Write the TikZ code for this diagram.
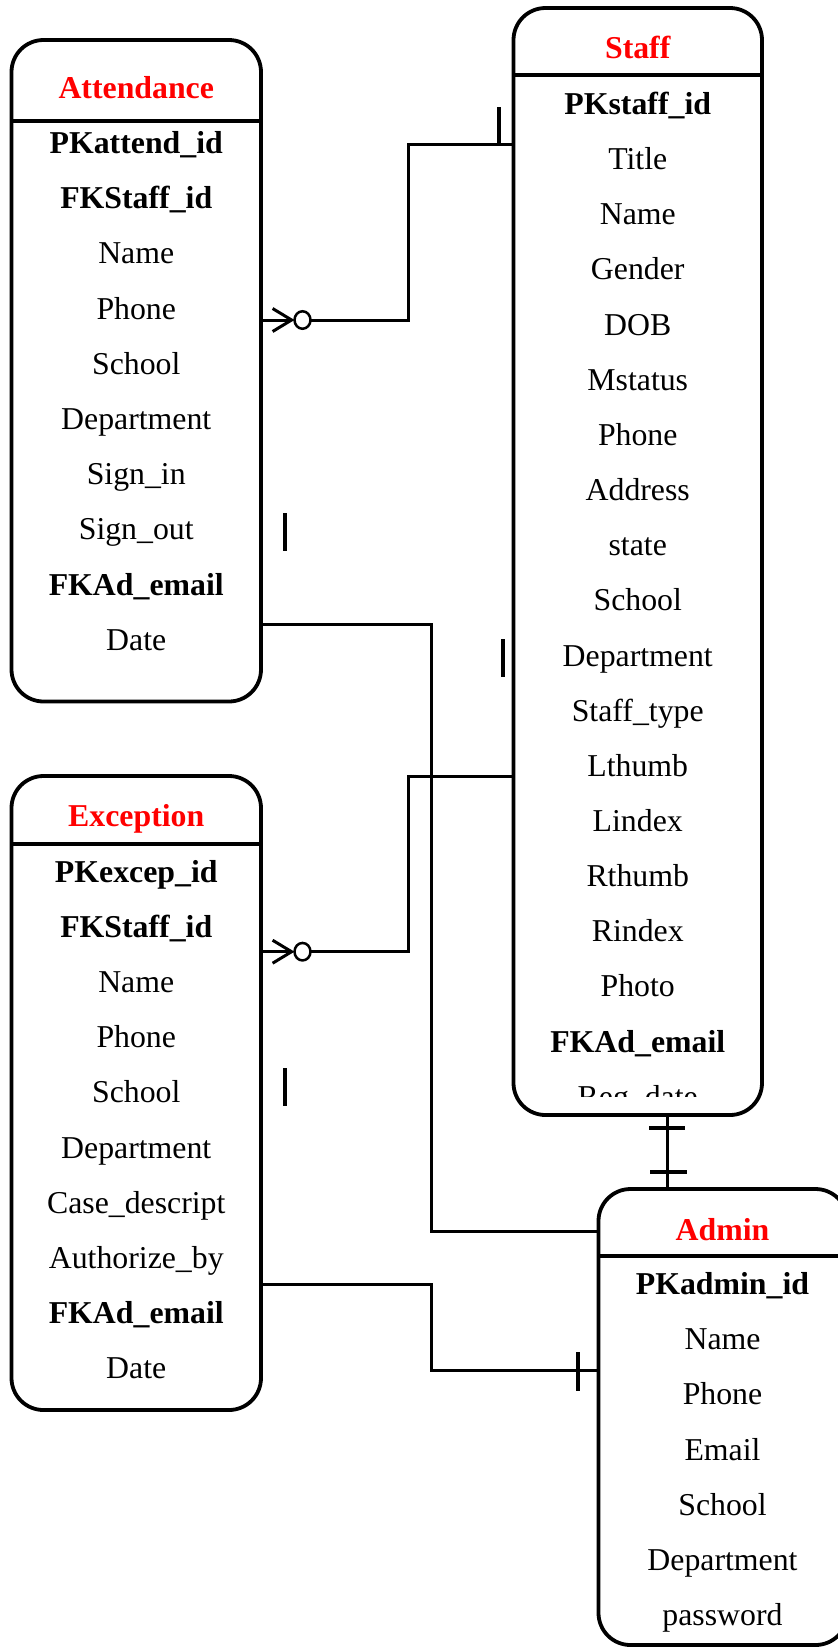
\documentclass[tikz,border=0pt]{standalone}
\usepackage{fontspec}
\setmainfont{Liberation Serif}
\usetikzlibrary{arrows.meta}

\tikzset{
  entity/.style={draw, line width=3.8pt, rounded corners=32pt, inner sep=0pt, outer sep=0pt},
  title/.style={text=red, font=\bfseries\fontsize{31.8}{36}\selectfont, text height=21pt, text depth=0pt, inner sep=0pt},
  field/.style={font=\fontsize{31.8}{36}\selectfont, text height=21pt, text depth=0pt, inner sep=0pt},
  link/.style={line width=3pt},
  tick/.style={line width=3.8pt},
  zero/.style={draw, ellipse, line width=2.5pt, fill=white, minimum width=16pt, minimum height=17.5pt, inner sep=0pt, outer sep=0pt},
  many/.style={-{Straight Barb[length=19pt,width=23pt]}},
}
\usetikzlibrary{shapes.geometric}

\begin{document}
\begin{tikzpicture}[x=1pt,y=-1pt]

  % Page frame
  \clip (0,0) rectangle (838,1647);

  % Entity boxes
  \node[entity, minimum width=249.5pt, minimum height=661.5pt] (att) at (136.25,370.75) {};
  \node[entity, minimum width=248.5pt, minimum height=1107pt] (staff) at (637.75,561.5) {};
  \node[entity, minimum width=249.5pt, minimum height=634pt] (excep) at (136.25,1093) {};
  \node[entity, minimum width=249pt, minimum height=456pt] (admin) at (723,1417) {};

  % Header rules
  \draw[entity] ([yshift=-81pt]att.north west) -- ([yshift=-81pt]att.north east);
  \draw[entity] ([yshift=-67pt]staff.north west) -- ([yshift=-67pt]staff.north east);
  \draw[entity] ([yshift=-68pt]excep.north west) -- ([yshift=-68pt]excep.north east);
  \draw[entity] ([yshift=-67pt]admin.north west) -- ([yshift=-67pt]admin.north east);

  % Titles
  \node[title] (attT) at (136.25,88) {Attendance};
  \node[title] (staffT) at (637.75,48) {Staff};
  \node[title] (excepT) at (136.25,816) {Exception};
  \node[title] (adminT) at (722.5,1229.5) {Admin};

  % Attendance fields
  \foreach \t [count=\i from 0] in {\textbf{PKattend\_id}, \textbf{FKStaff\_id}, Name, Phone, School,
      Department, Sign\_in, Sign\_out, \textbf{FKAd\_email}, Date}
    \node[field] (att\i) at (136.25,{143+55.2*\i}) {\t};

  % Staff fields (last one cut by the box)
  \begin{scope}
    \clip (513.5,75) rectangle (762,1096);
    \foreach \t [count=\i from 0] in {\textbf{PKstaff\_id}, Title, Name, Gender, DOB, Mstatus, Phone,
        Address, state, School, Department, Staff\_type, Lthumb, Lindex, Rthumb, Rindex, Photo,
        \textbf{FKAd\_email}, Reg\_date}
      \node[field] (staff\i) at (637.75,{104+55.15*\i}) {\t};
  \end{scope}

  % Exception fields
  \foreach \t [count=\i from 0] in {\textbf{PKexcep\_id}, \textbf{FKStaff\_id}, Name, Phone, School,
      Department, Case\_descript, Authorize\_by, \textbf{FKAd\_email}, Date}
    \node[field] (excep\i) at (136.25,{871.5+55.2*\i}) {\t};

  % Admin fields
  \foreach \t [count=\i from 0] in {\textbf{PKadmin\_id}, Name, Phone, Email, School, Department, password}
    \node[field] (admin\i) at (722.5,{1284+55.2*\i}) {\t};

  % Staff -- Attendance
  \coordinate (j1) at (408,144);
  \node[zero] (z1) at (302.5,320) {};
  \draw[link, many] (att.east |- z1) -- (z1.west);
  \draw[link] (z1.east) -| (j1) -- (j1 -| staff.west);
  \draw[tick] (499,107) -- (499,144);

  % Staff -- Exception
  \coordinate (j3) at (408,776);
  \node[zero] (z3) at (302.5,951.7) {};
  \draw[link, many] (excep.east |- z3) -- (z3.west);
  \draw[link] (z3.east) -| (j3) -- (j3 -| staff.west);

  % Attendance -- Admin
  \coordinate (j2) at (431.7,624.3);
  \coordinate (j2b) at (431.7,1231.7);
  \draw[link] (j2 -| att.east) -- (j2) -- (j2b) -- (j2b -| admin.west);

  % Exception -- Admin
  \coordinate (j4) at (431.7,1284);
  \coordinate (j4b) at (431.7,1370.7);
  \draw[link] (j4 -| excep.east) -- (j4) -- (j4b) -- (j4b -| admin.west);
  \draw[tick] (578,1352) -- (578,1391);

  % Staff -- Admin
  \coordinate (j5) at (667,1150);
  \draw[link] (j5 |- staff.south) -- (j5 |- admin.north);
  \draw[tick] (649,1128) -- (685,1128);
  \draw[tick] (650,1171.7) -- (687,1171.7);

  % Loose bars
  \draw[tick] (285,513) -- (285,551);
  \draw[tick] (503,639) -- (503,677);
  \draw[tick] (285,1068) -- (285,1106);

\end{tikzpicture}
\end{document}
